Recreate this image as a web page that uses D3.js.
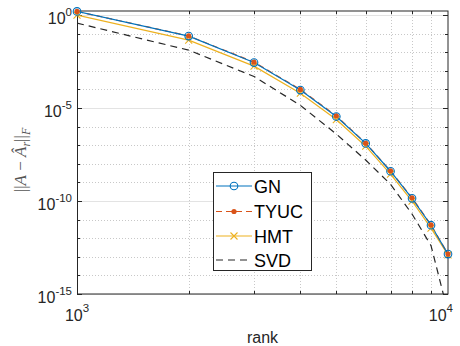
<!DOCTYPE html>
<html>
<head>
<meta charset="utf-8">
<script src="https://cdn.jsdelivr.net/npm/d3@7"></script>
<style>
  body { margin: 0; background: #fff; }
  text { font-family: "Liberation Sans", Arial, sans-serif; fill: #262626; }
</style>
</head>
<body>
<div id="chart"></div>
<script>
// rank vs. Frobenius error
var ranks = [1000, 2000, 3000, 4000, 5000, 6000, 7000, 8000, 9000, 10000];
var gn   = [1.58, 7.4e-2, 2.8e-3, 9.3e-5, 3.5e-6, 1.26e-7, 4.0e-9, 1.4e-10, 5.0e-12, 1.4e-13];
var tyuc = [1.58, 7.6e-2, 2.95e-3, 1.0e-4, 3.8e-6, 1.3e-7, 4.2e-9, 1.5e-10, 5.2e-12, 1.4e-13];
var hmt  = [1.0, 4.5e-2, 1.8e-3, 6.3e-5, 2.4e-6, 8.9e-8, 2.8e-9, 1.0e-10, 3.5e-12, 1.26e-13];
var svd  = [0.37, 1.3e-2, 5.0e-4, 1.4e-5, 4.0e-7, 1.6e-8, 8.0e-10, 2.0e-11, 4.0e-13, 1.0e-16];

var yMajor = [0, -5, -10, -15];          // labelled exponents
var xMinor = [2000, 3000, 4000, 5000, 6000, 7000, 8000, 9000];

var W = 460, H = 346;
var pL = 77, pR = 448, pT = 11, pB = 294;

var x = d3.scaleLog().domain([1000, 10000]).range([pL, pR]);
// top of the box sits a bit above 10^0
var y = d3.scaleLog().domain([1e-15, Math.pow(10, 0.22)]).range([pB, pT]);

var svg = d3.select("#chart").append("svg")
    .attr("width", W)
    .attr("height", H);

svg.append("defs").append("clipPath").attr("id", "plotclip")
    .append("rect")
    .attr("x", pL).attr("y", pT)
    .attr("width", pR - pL).attr("height", pB - pT);

// grid
var decades = d3.range(-15, 1);
var g = svg.append("g");
decades.forEach(function (e) {
    var yy = Math.round(y(Math.pow(10, e))) + 0.5;
    var major = yMajor.indexOf(e) >= 0;
    g.append("line")
        .attr("x1", pL).attr("x2", pR)
        .attr("y1", yy).attr("y2", yy)
        .style("stroke", major ? "#e3e3e3" : "#c8c8c8")
        .style("stroke-dasharray", major ? null : "1,2");
});
xMinor.forEach(function (v) {
    var xx = Math.round(x(v)) + 0.5;
    g.append("line")
        .attr("x1", xx).attr("x2", xx)
        .attr("y1", pT).attr("y2", pB)
        .style("stroke", "#c8c8c8")
        .style("stroke-dasharray", "1,2");
});

// ticks (inward, both sides)
var ticks = svg.append("g").style("stroke", "#262626");
decades.forEach(function (e) {
    var yy = Math.round(y(Math.pow(10, e))) + 0.5;
    var len = yMajor.indexOf(e) >= 0 ? 5 : 3;
    ticks.append("line").attr("x1", pL).attr("x2", pL + len).attr("y1", yy).attr("y2", yy);
    ticks.append("line").attr("x1", pR).attr("x2", pR - len).attr("y1", yy).attr("y2", yy);
});
xMinor.forEach(function (v) {
    var xx = Math.round(x(v)) + 0.5;
    ticks.append("line").attr("x1", xx).attr("x2", xx).attr("y1", pB).attr("y2", pB - 3);
    ticks.append("line").attr("x1", xx).attr("x2", xx).attr("y1", pT).attr("y2", pT + 3);
});

// box
svg.append("rect")
    .attr("x", pL + 0.5).attr("y", pT)
    .attr("width", pR - pL - 0.5).attr("height", pB - pT)
    .style("fill", "none")
    .style("stroke", "#262626")
    .style("stroke-width", 1);

// series
var series = [
    {name: "GN",   vals: gn,   color: "#0072BD", dash: null,  marker: "o"},
    {name: "TYUC", vals: tyuc, color: "#D95319", dash: "6,4", marker: "."},
    {name: "HMT",  vals: hmt,  color: "#EDB120", dash: null,  marker: "x"},
    {name: "SVD",  vals: svd,  color: "#262626", dash: "7,5", marker: null}
];

var line = d3.line()
    .x(function (d) { return x(d[0]); })
    .y(function (d) { return y(d[1]); });

function drawMarker(sel, m, cx, cy, color) {
    if (m === "o") {
        sel.append("circle").attr("cx", cx).attr("cy", cy).attr("r", 3.8)
            .style("fill", "none").style("stroke", color).style("stroke-width", 1.1);
    } else if (m === ".") {
        sel.append("circle").attr("cx", cx).attr("cy", cy).attr("r", 2.6)
            .style("fill", color);
    } else if (m === "x") {
        var s = 3.5;
        sel.append("path")
            .attr("d", "M" + (cx - s) + "," + (cy - s) + "L" + (cx + s) + "," + (cy + s) +
                       "M" + (cx - s) + "," + (cy + s) + "L" + (cx + s) + "," + (cy - s))
            .style("stroke", color).style("stroke-width", 1.1);
    }
}

var plot = svg.append("g");
var lines = plot.append("g").attr("clip-path", "url(#plotclip)");
// draw SVD first so the others sit on top
[3, 2, 1, 0].forEach(function (k) {
    var s = series[k];
    var pts = ranks.map(function (r, i) { return [r, s.vals[i]]; });
    lines.append("path")
        .attr("d", line(pts))
        .style("fill", "none")
        .style("stroke", s.color)
        .style("stroke-width", 1.2)
        .style("stroke-dasharray", s.dash);
});
[2, 1, 0].forEach(function (k) {
    var s = series[k];
    ranks.forEach(function (r, i) {
        drawMarker(plot, s.marker, x(r), y(s.vals[i]), s.color);
    });
});

// y tick labels
yMajor.forEach(function (e) {
    var yy = y(Math.pow(10, e));
    var t = svg.append("text")
        .attr("x", 72).attr("y", yy + 9)
        .attr("text-anchor", "end")
        .style("font-size", "16px");
    t.append("tspan").text("10");
    t.append("tspan").attr("dy", -8).style("font-size", "11.5px").text(e);
});

// x tick labels
[[1000, "3", 77, "middle"], [10000, "4", 453, "end"]].forEach(function (d) {
    var t = svg.append("text")
        .attr("x", d[2]).attr("y", pB + 27)
        .attr("text-anchor", d[3])
        .style("font-size", "16px");
    t.append("tspan").text("10");
    t.append("tspan").attr("dy", -9).style("font-size", "11.5px").text(d[1]);
});

// axis labels
svg.append("text")
    .attr("x", (pL + pR) / 2).attr("y", 343)
    .attr("text-anchor", "middle")
    .style("font-size", "16px")
    .text("rank");

var yl = svg.append("text")
    .attr("transform", "translate(26,160) rotate(-90)")
    .attr("text-anchor", "middle")
    .style("font-family", "'Liberation Serif', 'DejaVu Serif', serif")
    .style("font-size", "17px")
    .style("fill", "#555");
yl.append("tspan").text("||");
yl.append("tspan").style("font-style", "italic").text("A");
yl.append("tspan").text(" \u2212 ");
yl.append("tspan").style("font-style", "italic").text("\u00C2");
yl.append("tspan").attr("dy", 4).style("font-size", "12px").style("font-style", "italic").text("r");
yl.append("tspan").attr("dy", -4).text("||");
yl.append("tspan").attr("dy", 4).style("font-size", "12px").style("font-style", "italic").text("F");

// legend
var lg = svg.append("g");
lg.append("rect")
    .attr("x", 213.5).attr("y", 172.5)
    .attr("width", 98).attr("height", 98)
    .style("fill", "#fff")
    .style("stroke", "#262626")
    .style("stroke-width", 1);
var legY = [186, 211.5, 236, 260];
series.forEach(function (s, i) {
    var ly = legY[i];
    lg.append("line")
        .attr("x1", 216).attr("x2", 252)
        .attr("y1", ly).attr("y2", ly)
        .style("stroke", s.color)
        .style("stroke-width", 1.2)
        .style("stroke-dasharray", s.dash);
    drawMarker(lg, s.marker, 234, ly, s.color);
    lg.append("text")
        .attr("x", 254).attr("y", ly + 6.5)
        .style("font-size", "18px")
        .style("fill", "#000")
        .text(s.name);
});
</script>
</body>
</html>
